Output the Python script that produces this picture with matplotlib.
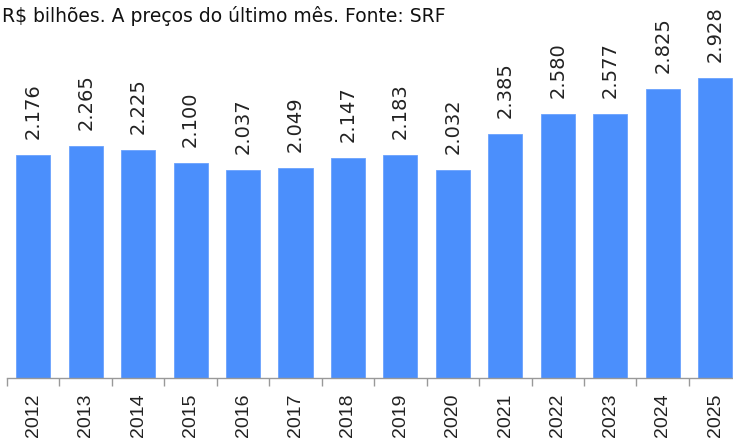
import matplotlib
matplotlib.use("Agg")
import matplotlib.pyplot as plt

years = ["2012", "2013", "2014", "2015", "2016", "2017", "2018",
         "2019", "2020", "2021", "2022", "2023", "2024", "2025"]
values = [2176, 2265, 2225, 2100, 2037, 2049, 2147,
          2183, 2032, 2385, 2580, 2577, 2825, 2928]
labels = ["2.176", "2.265", "2.225", "2.100", "2.037", "2.049", "2.147",
          "2.183", "2.032", "2.385", "2.580", "2.577", "2.825", "2.928"]
title = "R$ bilhões. A preços do último mês. Fonte: SRF"

W, H = 733, 440
fig = plt.figure(figsize=(W / 100, H / 100), dpi=100)
left_px, bottom_px = 7, 378
step = 52.45
ax = fig.add_axes([left_px / W, (H - bottom_px) / H, 14 * step / W, bottom_px / H])

x = list(range(len(years)))
ax.bar(x, values, width=0.65, color="#4B8FFC", edgecolor="#6aa2fd", linewidth=0.6, zorder=2)
ax.set_xlim(-0.5, len(years) - 0.5)
ax.set_ylim(0, 3695)

for xi, v, lab in zip(x, values, labels):
    ax.annotate(lab, (xi, v), xytext=(0, 11.5), textcoords="offset points",
                rotation=90, ha="center", va="bottom", fontsize=14,
                family="DejaVu Sans", color="#222222")

for s in ["top", "right", "left"]:
    ax.spines[s].set_visible(False)
ax.spines["bottom"].set_color("#999999")
ax.spines["bottom"].set_linewidth(1.0)
ax.set_yticks([])

ax.set_xticks([i - 0.5 for i in range(len(years) + 1)], minor=False)
ax.set_xticklabels([])
ax.tick_params(axis="x", which="major", length=6, color="#999999", width=1.0)
ax.set_xticks(x, minor=True)
ax.set_xticklabels(years, minor=True, rotation=90, fontsize=14,
                   family="Liberation Sans", color="#222222")
ax.tick_params(axis="x", which="minor", length=0, pad=11)

fig.text(2 / W, 1 - 22 / H, title, fontsize=13.5, family="DejaVu Sans",
         color="#111111", ha="left", va="baseline")

fig.savefig("out.png", dpi=100)
